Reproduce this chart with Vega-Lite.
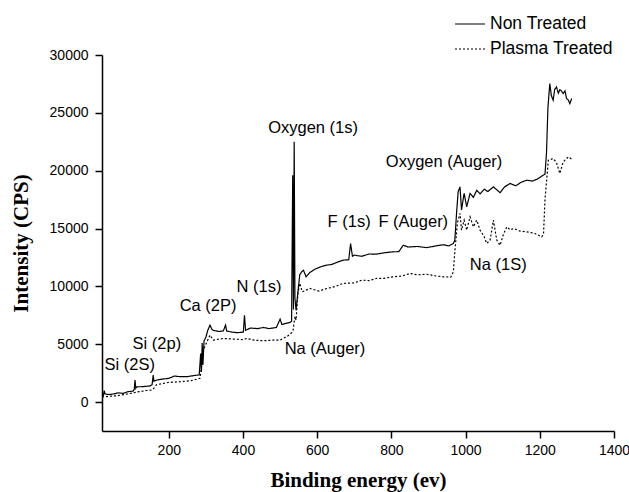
{
  "$schema": "https://vega.github.io/schema/vega-lite/v6.json",
  "width": 512,
  "height": 376,
  "autosize": {"type": "none"},
  "padding": {"left": 102, "top": 55, "right": 15, "bottom": 61},
  "background": "white",
  "config": {
    "view": {"stroke": null},
    "axis": {
      "domainColor": "black", "domainWidth": 1.5, "tickColor": "black", "tickWidth": 1.5,
      "labelColor": "black", "labelFont": "Liberation Sans", "labelFontSize": 14,
      "titleColor": "black", "titleFont": "Liberation Serif", "titleFontWeight": "bold", "titleFontSize": 21,
      "grid": false
    }
  },
  "datasets": {
    "curves": [
      {"e": 20, "i": 650, "s": "Non Treated"}, {"e": 24, "i": 600, "s": "Non Treated"}, {"e": 26, "i": 1000, "s": "Non Treated"}, {"e": 28, "i": 700, "s": "Non Treated"},
      {"e": 40, "i": 650, "s": "Non Treated"}, {"e": 50, "i": 700, "s": "Non Treated"}, {"e": 65, "i": 800, "s": "Non Treated"}, {"e": 77, "i": 750, "s": "Non Treated"},
      {"e": 90, "i": 900, "s": "Non Treated"}, {"e": 104, "i": 950, "s": "Non Treated"}, {"e": 107, "i": 1100, "s": "Non Treated"}, {"e": 109, "i": 1900, "s": "Non Treated"},
      {"e": 111, "i": 1200, "s": "Non Treated"}, {"e": 113, "i": 1320, "s": "Non Treated"}, {"e": 130, "i": 1330, "s": "Non Treated"}, {"e": 150, "i": 1400, "s": "Non Treated"},
      {"e": 155, "i": 1500, "s": "Non Treated"}, {"e": 158, "i": 2330, "s": "Non Treated"}, {"e": 160, "i": 1800, "s": "Non Treated"}, {"e": 167, "i": 1900, "s": "Non Treated"},
      {"e": 185, "i": 2000, "s": "Non Treated"}, {"e": 200, "i": 2050, "s": "Non Treated"}, {"e": 215, "i": 2250, "s": "Non Treated"}, {"e": 230, "i": 2200, "s": "Non Treated"},
      {"e": 250, "i": 2200, "s": "Non Treated"}, {"e": 270, "i": 2300, "s": "Non Treated"}, {"e": 282, "i": 2350, "s": "Non Treated"}, {"e": 286, "i": 4200, "s": "Non Treated"},
      {"e": 288, "i": 2600, "s": "Non Treated"}, {"e": 290, "i": 5100, "s": "Non Treated"}, {"e": 292, "i": 3200, "s": "Non Treated"}, {"e": 295, "i": 5300, "s": "Non Treated"},
      {"e": 300, "i": 5600, "s": "Non Treated"}, {"e": 305, "i": 6200, "s": "Non Treated"}, {"e": 311, "i": 6650, "s": "Non Treated"}, {"e": 316, "i": 6300, "s": "Non Treated"},
      {"e": 320, "i": 6200, "s": "Non Treated"}, {"e": 335, "i": 6100, "s": "Non Treated"}, {"e": 347, "i": 6150, "s": "Non Treated"}, {"e": 353, "i": 6650, "s": "Non Treated"},
      {"e": 356, "i": 6150, "s": "Non Treated"}, {"e": 370, "i": 6050, "s": "Non Treated"}, {"e": 385, "i": 6000, "s": "Non Treated"}, {"e": 401, "i": 6050, "s": "Non Treated"},
      {"e": 404, "i": 7500, "s": "Non Treated"}, {"e": 407, "i": 6200, "s": "Non Treated"}, {"e": 420, "i": 6400, "s": "Non Treated"}, {"e": 440, "i": 6350, "s": "Non Treated"},
      {"e": 455, "i": 6450, "s": "Non Treated"}, {"e": 470, "i": 6350, "s": "Non Treated"}, {"e": 490, "i": 6450, "s": "Non Treated"}, {"e": 500, "i": 7170, "s": "Non Treated"},
      {"e": 505, "i": 6700, "s": "Non Treated"}, {"e": 515, "i": 6800, "s": "Non Treated"}, {"e": 528, "i": 6900, "s": "Non Treated"}, {"e": 531, "i": 7000, "s": "Non Treated"},
      {"e": 534, "i": 19600, "s": "Non Treated"}, {"e": 536, "i": 8000, "s": "Non Treated"}, {"e": 538, "i": 22500, "s": "Non Treated"}, {"e": 540, "i": 9000, "s": "Non Treated"},
      {"e": 543, "i": 7950, "s": "Non Treated"}, {"e": 548, "i": 9500, "s": "Non Treated"}, {"e": 553, "i": 11000, "s": "Non Treated"}, {"e": 558, "i": 11260, "s": "Non Treated"},
      {"e": 563, "i": 11400, "s": "Non Treated"}, {"e": 570, "i": 10830, "s": "Non Treated"}, {"e": 580, "i": 11200, "s": "Non Treated"}, {"e": 595, "i": 11500, "s": "Non Treated"},
      {"e": 610, "i": 11700, "s": "Non Treated"}, {"e": 626, "i": 11840, "s": "Non Treated"}, {"e": 640, "i": 11900, "s": "Non Treated"}, {"e": 655, "i": 12100, "s": "Non Treated"},
      {"e": 670, "i": 12270, "s": "Non Treated"}, {"e": 685, "i": 12300, "s": "Non Treated"}, {"e": 690, "i": 13700, "s": "Non Treated"}, {"e": 695, "i": 12600, "s": "Non Treated"},
      {"e": 700, "i": 12700, "s": "Non Treated"}, {"e": 720, "i": 12600, "s": "Non Treated"}, {"e": 740, "i": 12800, "s": "Non Treated"}, {"e": 760, "i": 12790, "s": "Non Treated"},
      {"e": 780, "i": 12900, "s": "Non Treated"}, {"e": 805, "i": 12990, "s": "Non Treated"}, {"e": 820, "i": 13000, "s": "Non Treated"}, {"e": 832, "i": 13560, "s": "Non Treated"},
      {"e": 845, "i": 13400, "s": "Non Treated"}, {"e": 870, "i": 13450, "s": "Non Treated"}, {"e": 895, "i": 13350, "s": "Non Treated"}, {"e": 920, "i": 13500, "s": "Non Treated"},
      {"e": 940, "i": 13600, "s": "Non Treated"}, {"e": 955, "i": 13500, "s": "Non Treated"}, {"e": 967, "i": 13710, "s": "Non Treated"}, {"e": 971, "i": 14000, "s": "Non Treated"},
      {"e": 976, "i": 16500, "s": "Non Treated"}, {"e": 980, "i": 18200, "s": "Non Treated"}, {"e": 985, "i": 18600, "s": "Non Treated"}, {"e": 989, "i": 16600, "s": "Non Treated"},
      {"e": 996, "i": 18050, "s": "Non Treated"}, {"e": 1003, "i": 16870, "s": "Non Treated"}, {"e": 1012, "i": 18030, "s": "Non Treated"}, {"e": 1021, "i": 17700, "s": "Non Treated"},
      {"e": 1030, "i": 18300, "s": "Non Treated"}, {"e": 1039, "i": 18000, "s": "Non Treated"}, {"e": 1050, "i": 18400, "s": "Non Treated"}, {"e": 1060, "i": 18200, "s": "Non Treated"},
      {"e": 1075, "i": 18600, "s": "Non Treated"}, {"e": 1093, "i": 18100, "s": "Non Treated"}, {"e": 1105, "i": 18600, "s": "Non Treated"}, {"e": 1120, "i": 18890, "s": "Non Treated"},
      {"e": 1135, "i": 18700, "s": "Non Treated"}, {"e": 1150, "i": 19000, "s": "Non Treated"}, {"e": 1165, "i": 19180, "s": "Non Treated"}, {"e": 1180, "i": 19100, "s": "Non Treated"},
      {"e": 1195, "i": 19300, "s": "Non Treated"}, {"e": 1209, "i": 19610, "s": "Non Treated"}, {"e": 1214, "i": 19700, "s": "Non Treated"}, {"e": 1218, "i": 21500, "s": "Non Treated"},
      {"e": 1222, "i": 25500, "s": "Non Treated"}, {"e": 1227, "i": 27530, "s": "Non Treated"}, {"e": 1231, "i": 26500, "s": "Non Treated"}, {"e": 1236, "i": 26090, "s": "Non Treated"},
      {"e": 1240, "i": 27000, "s": "Non Treated"}, {"e": 1245, "i": 27240, "s": "Non Treated"}, {"e": 1250, "i": 26700, "s": "Non Treated"}, {"e": 1254, "i": 27000, "s": "Non Treated"},
      {"e": 1258, "i": 26900, "s": "Non Treated"}, {"e": 1263, "i": 26670, "s": "Non Treated"}, {"e": 1268, "i": 26900, "s": "Non Treated"}, {"e": 1272, "i": 26240, "s": "Non Treated"},
      {"e": 1277, "i": 26100, "s": "Non Treated"}, {"e": 1281, "i": 25800, "s": "Non Treated"}, {"e": 1286, "i": 26240, "s": "Non Treated"},

      {"e": 20, "i": 450, "s": "Plasma Treated"}, {"e": 40, "i": 500, "s": "Plasma Treated"}, {"e": 60, "i": 550, "s": "Plasma Treated"}, {"e": 80, "i": 650, "s": "Plasma Treated"},
      {"e": 104, "i": 800, "s": "Plasma Treated"}, {"e": 120, "i": 900, "s": "Plasma Treated"}, {"e": 140, "i": 1000, "s": "Plasma Treated"}, {"e": 154, "i": 1040, "s": "Plasma Treated"},
      {"e": 160, "i": 1200, "s": "Plasma Treated"}, {"e": 167, "i": 1500, "s": "Plasma Treated"}, {"e": 200, "i": 1700, "s": "Plasma Treated"}, {"e": 230, "i": 1760, "s": "Plasma Treated"},
      {"e": 260, "i": 1850, "s": "Plasma Treated"}, {"e": 284, "i": 2050, "s": "Plasma Treated"}, {"e": 290, "i": 3500, "s": "Plasma Treated"}, {"e": 293, "i": 4490, "s": "Plasma Treated"},
      {"e": 300, "i": 5000, "s": "Plasma Treated"}, {"e": 311, "i": 5790, "s": "Plasma Treated"}, {"e": 320, "i": 5360, "s": "Plasma Treated"}, {"e": 347, "i": 5500, "s": "Plasma Treated"},
      {"e": 370, "i": 5450, "s": "Plasma Treated"}, {"e": 401, "i": 5400, "s": "Plasma Treated"}, {"e": 410, "i": 5500, "s": "Plasma Treated"}, {"e": 430, "i": 5350, "s": "Plasma Treated"},
      {"e": 455, "i": 5300, "s": "Plasma Treated"}, {"e": 480, "i": 5350, "s": "Plasma Treated"}, {"e": 500, "i": 5360, "s": "Plasma Treated"}, {"e": 520, "i": 5700, "s": "Plasma Treated"},
      {"e": 531, "i": 5990, "s": "Plasma Treated"}, {"e": 535, "i": 6200, "s": "Plasma Treated"}, {"e": 540, "i": 7400, "s": "Plasma Treated"}, {"e": 543, "i": 7080, "s": "Plasma Treated"},
      {"e": 548, "i": 9390, "s": "Plasma Treated"}, {"e": 553, "i": 10260, "s": "Plasma Treated"}, {"e": 560, "i": 9530, "s": "Plasma Treated"}, {"e": 580, "i": 9820, "s": "Plasma Treated"},
      {"e": 605, "i": 9600, "s": "Plasma Treated"}, {"e": 626, "i": 9820, "s": "Plasma Treated"}, {"e": 650, "i": 10000, "s": "Plasma Treated"}, {"e": 670, "i": 10260, "s": "Plasma Treated"},
      {"e": 700, "i": 10300, "s": "Plasma Treated"}, {"e": 720, "i": 10540, "s": "Plasma Treated"}, {"e": 740, "i": 10500, "s": "Plasma Treated"}, {"e": 760, "i": 10690, "s": "Plasma Treated"},
      {"e": 780, "i": 10700, "s": "Plasma Treated"}, {"e": 805, "i": 10830, "s": "Plasma Treated"}, {"e": 830, "i": 10900, "s": "Plasma Treated"}, {"e": 850, "i": 11120, "s": "Plasma Treated"},
      {"e": 870, "i": 11000, "s": "Plasma Treated"}, {"e": 895, "i": 11050, "s": "Plasma Treated"}, {"e": 920, "i": 10900, "s": "Plasma Treated"}, {"e": 940, "i": 10830, "s": "Plasma Treated"},
      {"e": 960, "i": 10800, "s": "Plasma Treated"}, {"e": 967, "i": 11260, "s": "Plasma Treated"}, {"e": 971, "i": 13000, "s": "Plasma Treated"}, {"e": 978, "i": 15500, "s": "Plasma Treated"},
      {"e": 985, "i": 16300, "s": "Plasma Treated"}, {"e": 989, "i": 14860, "s": "Plasma Treated"}, {"e": 996, "i": 15720, "s": "Plasma Treated"}, {"e": 1003, "i": 14860, "s": "Plasma Treated"},
      {"e": 1012, "i": 16010, "s": "Plasma Treated"}, {"e": 1021, "i": 15150, "s": "Plasma Treated"}, {"e": 1030, "i": 15720, "s": "Plasma Treated"}, {"e": 1039, "i": 14860, "s": "Plasma Treated"},
      {"e": 1050, "i": 14300, "s": "Plasma Treated"}, {"e": 1057, "i": 13710, "s": "Plasma Treated"}, {"e": 1066, "i": 14000, "s": "Plasma Treated"}, {"e": 1075, "i": 15720, "s": "Plasma Treated"},
      {"e": 1084, "i": 14000, "s": "Plasma Treated"}, {"e": 1093, "i": 13560, "s": "Plasma Treated"}, {"e": 1102, "i": 14500, "s": "Plasma Treated"}, {"e": 1111, "i": 15150, "s": "Plasma Treated"},
      {"e": 1120, "i": 14900, "s": "Plasma Treated"}, {"e": 1130, "i": 15000, "s": "Plasma Treated"}, {"e": 1145, "i": 14800, "s": "Plasma Treated"}, {"e": 1165, "i": 14710, "s": "Plasma Treated"},
      {"e": 1185, "i": 14600, "s": "Plasma Treated"}, {"e": 1205, "i": 14280, "s": "Plasma Treated"}, {"e": 1210, "i": 14500, "s": "Plasma Treated"}, {"e": 1214, "i": 17500, "s": "Plasma Treated"},
      {"e": 1223, "i": 20900, "s": "Plasma Treated"}, {"e": 1236, "i": 21050, "s": "Plasma Treated"}, {"e": 1245, "i": 20700, "s": "Plasma Treated"}, {"e": 1254, "i": 19760, "s": "Plasma Treated"},
      {"e": 1263, "i": 20760, "s": "Plasma Treated"}, {"e": 1277, "i": 21190, "s": "Plasma Treated"}, {"e": 1286, "i": 21000, "s": "Plasma Treated"}
    ],
    "labels": [
      {"e": 589, "i": 23670, "t": "Oxygen (1s)"},
      {"e": 942, "i": 20760, "t": "Oxygen (Auger)"},
      {"e": 686, "i": 15580, "t": "F (1s)"},
      {"e": 859, "i": 15580, "t": "F (Auger)"},
      {"e": 1088, "i": 11840, "t": "Na (1S)"},
      {"e": 443, "i": 9910, "t": "N (1s)"},
      {"e": 306, "i": 8320, "t": "Ca (2P)"},
      {"e": 168, "i": 4980, "t": "Si (2p)"},
      {"e": 95, "i": 3200, "t": "Si (2S)"},
      {"e": 621, "i": 4550, "t": "Na (Auger)"}
    ]
  },
  "layer": [
    {
      "data": {"name": "curves"},
      "mark": {"type": "line", "strokeWidth": 1.2},
      "encoding": {
        "x": {
          "field": "e", "type": "quantitative",
          "scale": {"domain": [20, 1400], "nice": false, "zero": false},
          "axis": {
            "title": "Binding energy (ev)",
            "values": [200, 400, 600, 800, 1000, 1200, 1400],
            "format": "d",
            "tickSize": 7,
            "labelPadding": 5,
            "labelFlush": false,
            "titlePadding": 12
          }
        },
        "y": {
          "field": "i", "type": "quantitative",
          "scale": {"domain": [-2500, 30000], "nice": false, "zero": false},
          "axis": {
            "title": "Intensity (CPS)",
            "values": [0, 2500, 5000, 7500, 10000, 12500, 15000, 17500, 20000, 22500, 25000, 27500, 30000],
            "format": "d",
            "labelExpr": "datum.value % 5000 === 0 ? datum.label : ''",
            "tickSize": {"condition": {"test": "datum.value % 5000 === 0", "value": 7}, "value": 4},
            "labelPadding": 7,
            "titlePadding": 18
          }
        },
        "color": {
          "field": "s", "type": "nominal",
          "scale": {"domain": ["Non Treated", "Plasma Treated"], "range": ["black", "black"]},
          "legend": {
            "title": null, "orient": "none", "legendX": 352, "legendY": -47,
            "symbolType": "stroke", "symbolSize": 900, "symbolStrokeWidth": 1.2,
            "labelFont": "Liberation Sans", "labelFontSize": 17.5, "labelColor": "black", "labelOffset": 4, "rowPadding": -5
          }
        },
        "strokeDash": {
          "field": "s", "type": "nominal",
          "scale": {"domain": ["Non Treated", "Plasma Treated"], "range": [[1, 0], [2, 2]]},
          "legend": {
            "title": null, "orient": "none", "legendX": 352, "legendY": -47,
            "symbolType": "stroke", "symbolSize": 900, "symbolStrokeWidth": 1.2,
            "labelFont": "Liberation Sans", "labelFontSize": 17.5, "labelColor": "black", "labelOffset": 4, "rowPadding": -5
          }
        }
      }
    },
    {
      "data": {"name": "labels"},
      "mark": {"type": "text", "font": "Liberation Sans", "fontSize": 16.5, "color": "black", "align": "center", "baseline": "middle"},
      "encoding": {
        "x": {"field": "e", "type": "quantitative"},
        "y": {"field": "i", "type": "quantitative"},
        "text": {"field": "t", "type": "nominal"}
      }
    }
  ]
}
